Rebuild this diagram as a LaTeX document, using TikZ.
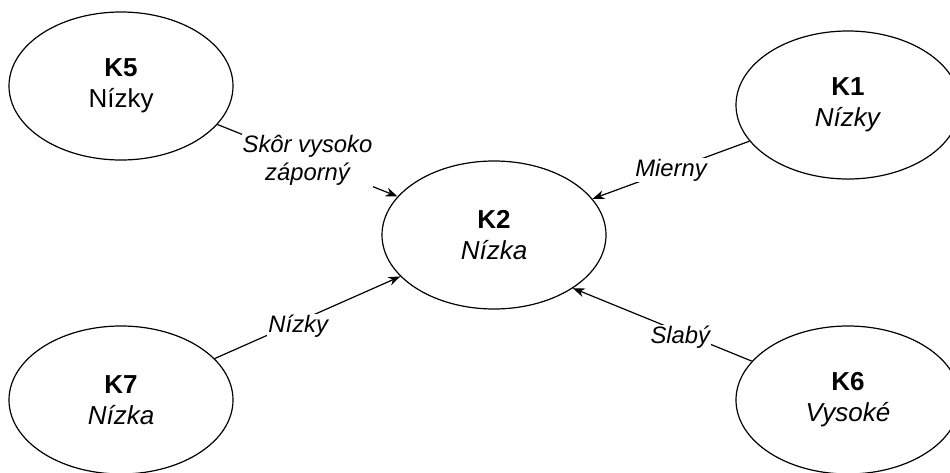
\documentclass[tikz,border=0pt]{standalone}
\usepackage{fontspec}
\setmainfont{Liberation Sans}
\usetikzlibrary{arrows.meta,shapes,positioning}
\tikzset{
    concept/.style={draw, ellipse, line width=1.2pt, minimum width=224pt, minimum height=148pt, align=center, font=\fontsize{26}{31}\selectfont},
    link/.style={-{Stealth[length=12pt, width=9pt]}, line width=1.2pt},
    weight/.style={fill=white, inner sep=1pt, align=center, font=\fontsize{23.8}{28.5}\selectfont\itshape}
}

\begin{document}
\begin{tikzpicture}[x=1pt, y=-1pt, node distance=1pt, on grid]
            \useasboundingbox (0,0) rectangle (950,473);
            % Central factor
            \node[concept] (k2) at (494,235) {\textbf{K2}\\\textit{Nízka}};

            % Factors around it
            \node[concept, above left=149pt and 373pt of k2] (k5) {\textbf{K5}\\Nízky};
            \node[concept, above right=130pt and 354pt of k2] (k1) {\textbf{K1}\\\textit{Nízky}};
            \node[concept, below left=165pt and 373pt of k2] (k7) {\textbf{K7}\\\textit{Nízka}};
            \node[concept, below right=165pt and 354pt of k2] (k6) {\textbf{K6}\\\textit{Vysoké}};

            % Influences on K2
            \draw[link] (k5) -- node[weight] {Skôr vysoko\\záporný} (k2);
            \draw[link] (k1) -- node[weight] {Mierny} (k2);
            \draw[link] (k7) -- node[weight, pos=0.45, yshift=-5pt] {Nízky} (k2);
            \draw[link] (k6.158) -- node[weight, pos=0.4, yshift=-5pt] {Slabý} (k2.-34);
        \end{tikzpicture}
\end{document}
